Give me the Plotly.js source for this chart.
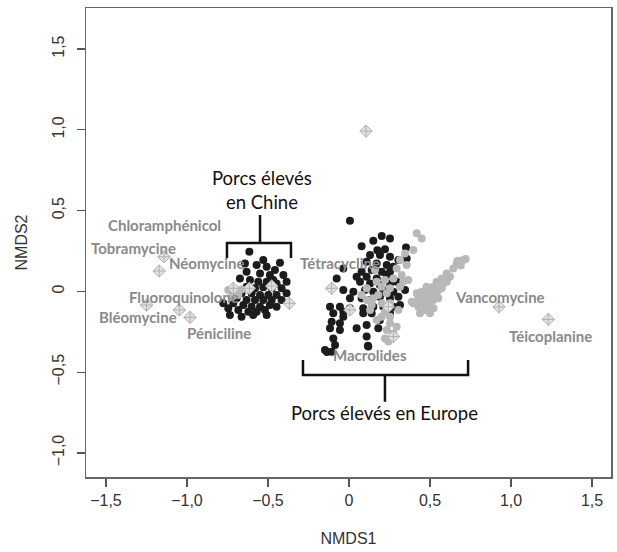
<!DOCTYPE html>
<html><head><meta charset="utf-8">
<script src="https://cdn.plot.ly/plotly-3.0.1.min.js"></script>
<style>html,body{margin:0;padding:0;background:#fff}#chart{width:617px;height:552px}</style>
</head><body><div id="chart"></div>
<script>
// ---- tick labels ----
const xTickVals = [-1.5, -1, -0.5, 0, 0.5, 1, 1.5];
const xTickText = ['−1,5', '−1,0', '−0,5', '0', '0,5', '1,0', '1,5'];
const yTickVals = [-1, -0.5, 0, 0.5, 1, 1.5];
const yTickText = ['−1,0', '−0,5', '0', '0,5', '1,0', '1,5'];

// ---- samples: pigs raised in China (dark) ----
const chinaDarkX = [-0.615,-0.426,-0.570,-0.508,-0.457,-0.632,-0.549,-0.488,-0.405,-0.385,-0.673,-0.611,-0.560,-0.508,-0.447,-0.632,-0.580,-0.529,-0.477,-0.416,-0.663,-0.601,-0.549,-0.498,-0.447,-0.385,-0.693,-0.632,-0.580,-0.529,-0.477,-0.416,-0.776,-0.714,-0.652,-0.601,-0.549,-0.488,-0.745,-0.683,-0.621,-0.570,-0.519,-0.735,-0.663,-0.591,-0.508,-0.447,-0.467,-0.642,-0.529];
const chinaDarkY = [0.245,0.177,0.163,0.153,0.132,0.122,0.111,0.101,0.101,0.060,0.080,0.070,0.060,0.060,0.049,0.029,0.019,0.025,0.019,0.019,-0.012,-0.012,-0.023,-0.023,-0.023,-0.012,-0.043,-0.054,-0.054,-0.054,-0.054,-0.054,-0.074,-0.074,-0.085,-0.095,-0.095,-0.085,-0.105,-0.115,-0.126,-0.126,-0.115,-0.146,-0.157,-0.146,-0.146,-0.095,0.070,0.173,0.194];

// ---- samples: pigs raised in Europe (dark) ----
const europeDarkX = [0.006,0.202,0.253,0.150,0.078,0.352,0.175,0.222,0.130,0.191,0.253,0.305,0.356,0.109,0.171,0.233,0.274,-0.035,0.078,0.140,0.202,0.253,0.047,0.109,0.171,0.233,-0.076,0.068,0.130,0.191,0.253,0.294,0.346,-0.107,-0.035,0.027,0.099,0.150,0.212,0.274,0.006,0.078,0.130,0.191,0.253,0.305,-0.117,-0.056,0.006,0.088,0.150,0.212,0.274,-0.097,-0.035,0.088,0.140,0.315,-0.107,-0.056,0.047,0.109,0.181,-0.117,-0.056,-0.097,0.109,0.191,-0.086,-0.148,-0.107,0.119,-0.035,0.253,-0.136,0.117];
const europeDarkY = [0.437,0.342,0.328,0.313,0.280,0.272,0.255,0.260,0.225,0.225,0.214,0.194,0.204,0.183,0.173,0.163,0.153,0.142,0.122,0.132,0.122,0.122,0.091,0.091,0.080,0.101,0.080,0.060,0.049,0.039,0.049,0.060,0.008,0.019,0.008,-0.002,0.008,-0.002,0.008,-0.002,-0.043,-0.043,-0.054,-0.033,-0.043,-0.033,-0.095,-0.095,-0.105,-0.105,-0.095,-0.095,-0.095,-0.136,-0.126,-0.136,-0.136,-0.085,-0.188,-0.198,-0.229,-0.208,-0.229,-0.229,-0.239,-0.291,-0.280,-0.177,-0.332,-0.363,-0.373,-0.342,-0.157,-0.136,-0.375,-0.337];

// ---- samples: light grey group ----
const lightX = [0.418,0.449,0.397,0.346,0.315,0.356,0.294,0.325,0.366,0.274,0.222,0.171,0.202,0.253,0.315,0.233,0.181,0.150,0.109,0.140,0.202,0.253,0.305,0.222,0.253,0.202,0.253,0.233,0.274,0.222,0.243,0.294,0.171,0.130,0.078,0.109,0.160,0.335,
  0.706,0.665,0.644,0.603,0.623,0.572,0.582,0.541,0.521,0.551,0.500,0.479,0.510,0.459,0.428,0.449,0.479,0.521,0.459,0.428,0.397,0.469,0.438,0.500,0.541,0.572,0.603,0.479,0.449,0.418,0.387,0.500,0.521,0.551,
  0.72,0.69,0.67,
  -0.745,-0.714,-0.683,-0.724,-0.663];
const lightY = [0.359,0.328,0.256,0.235,0.194,0.163,0.142,0.101,0.070,0.080,0.070,0.060,0.029,0.019,0.029,-0.012,-0.023,-0.043,-0.054,-0.085,-0.074,-0.074,-0.115,-0.126,-0.157,-0.157,-0.198,-0.239,-0.260,-0.291,-0.311,-0.219,-0.177,-0.115,-0.023,0.019,0.132,0.060,
  0.194,0.173,0.142,0.111,0.091,0.080,0.049,0.060,0.029,0.008,0.008,-0.012,-0.023,-0.033,-0.043,-0.064,-0.054,-0.054,-0.085,-0.095,-0.074,-0.115,-0.136,-0.095,-0.023,0.019,0.060,0.029,-0.002,-0.012,-0.064,-0.136,-0.105,-0.043,
  0.20,0.16,0.19,
  0.008,-0.008,-0.023,-0.037,0.012];

// ---- antibiotic resistance markers ----
const abX = [0.105,-1.142,-1.171,-1.249,-1.047,-0.981,-0.714,-0.615,-0.477,-0.368,-0.107,0.006,0.243,0.274,0.926,1.230];
const abY = [0.992,0.214,0.126,-0.085,-0.115,-0.161,0.019,0.019,0.033,-0.074,0.019,-0.115,-0.095,-0.280,-0.096,-0.173];

// ---- antibiotic labels ----
const abNames = ['Chloramphénicol','Tobramycine','Néomycine','Fluoroquinolone','Bléomycine','Péniciline','Tétracycline','Macrolides','Vancomycine','Téicoplanine'];
const abLabelX = [-1.136,-1.327,-0.877,-1.019,-1.302,-0.802,-0.056,0.130,0.932,1.241];
const abLabelY = [0.411,0.268,0.176,-0.035,-0.158,-0.257,0.176,-0.393,-0.035,-0.276];

const groupNames = ['Porcs élevés<br>en Chine', 'Porcs élevés en Europe'];

const ptSize = 8;
const traces = [
  {x: chinaDarkX, y: chinaDarkY, type:'scatter', mode:'markers', marker:{color:'#1c1c1c', size:ptSize}, hoverinfo:'skip'},
  {x: europeDarkX, y: europeDarkY, type:'scatter', mode:'markers', marker:{color:'#1c1c1c', size:ptSize}, hoverinfo:'skip'},
  {x: lightX, y: lightY, type:'scatter', mode:'markers', marker:{color:'#b8b8b8', size:ptSize}, hoverinfo:'skip'},
  {x: abX, y: abY, type:'scatter', mode:'markers', marker:{symbol:'diamond-cross', color:'#e2e2e2', size:9.5, line:{color:'#b0b0b0', width:1}}, hoverinfo:'skip'}
];

const labelAnn = abNames.map((t,i)=>({x:abLabelX[i], y:abLabelY[i], xref:'x', yref:'y', text:t, showarrow:false,
  font:{family:'Lato', size:15, color:'#8a8a8a', weight:'bold'}}));

const groupAnn = [
  {x:-0.537, y:0.626, xref:'x', yref:'y', text:groupNames[0], showarrow:false, font:{family:'Lato', size:18.5, color:'#111'}},
  {x:0.222, y:-0.751, xref:'x', yref:'y', text:groupNames[1], showarrow:false, font:{family:'Lato', size:18.5, color:'#111'}}
];

const bracketLine = {color:'#111', width:2.5};
const shapes = [
  {type:'path', xref:'x', yref:'y', path:'M -0.753,0.207 L -0.753,0.299 L -0.358,0.299 L -0.358,0.207 M -0.549,0.299 L -0.549,0.472', line:bracketLine},
  {type:'path', xref:'x', yref:'y', path:'M -0.284,-0.425 L -0.284,-0.517 L 0.735,-0.517 L 0.735,-0.425 M 0.222,-0.517 L 0.222,-0.683', line:bracketLine}
];

const axisFont = {family:'Liberation Sans, Arial, sans-serif', size:16, color:'#333'};
const layout = {
  width:617, height:552,
  margin:{l:86, r:6, t:8, b:75},
  paper_bgcolor:'#fff', plot_bgcolor:'#fff',
  showlegend:false,
  xaxis:{range:[-1.623,1.617], tickvals:xTickVals, ticktext:xTickText, ticks:'outside', ticklen:8, tickcolor:'#555', tickwidth:1.2,
    showgrid:false, zeroline:false, showline:true, mirror:true, linecolor:'#666', linewidth:1.5,
    tickfont:axisFont, title:{text:'NMDS1', font:axisFont, standoff:25}},
  yaxis:{range:[-1.149,1.754], tickvals:yTickVals, ticktext:yTickText, ticks:'outside', ticklen:8, tickcolor:'#555', tickwidth:1.2,
    tickangle:-90, ticklabelstandoff:6, showgrid:false, zeroline:false, showline:true, mirror:true, linecolor:'#666', linewidth:1.5,
    tickfont:axisFont, title:{text:'NMDS2', font:axisFont, standoff:18}},
  annotations: labelAnn.concat(groupAnn),
  shapes: shapes
};
Plotly.newPlot('chart', traces, layout, {displayModeBar:false, staticPlot:true});
</script>
</body></html>
